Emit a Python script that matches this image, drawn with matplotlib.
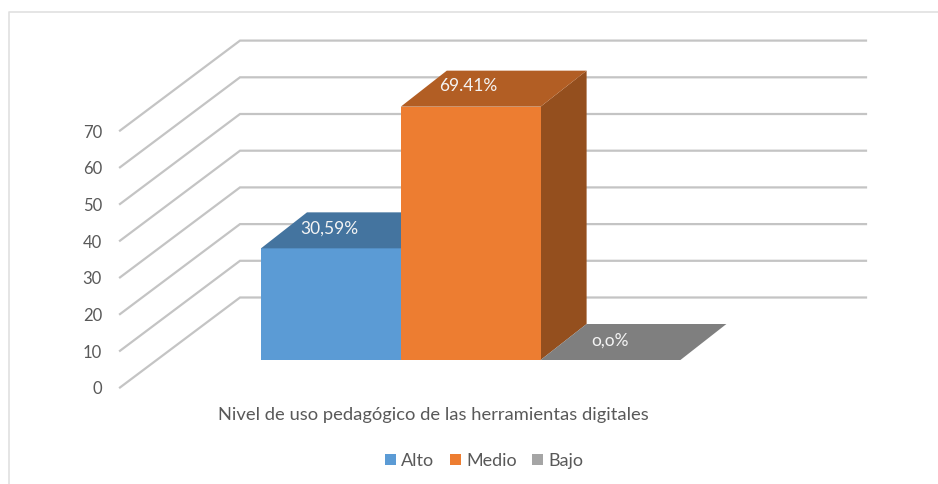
import matplotlib
matplotlib.use("Agg")
import matplotlib.pyplot as plt
from matplotlib.patches import Polygon, Rectangle

plt.rcParams['font.family'] = ['Lato', 'DejaVu Sans']

categories = ["Alto", "Medio", "Bajo"]
values = [30.59, 69.41, 0.0]
value_labels = ["30,59%", "69.41%", "o,o%"]
y_ticks = [0, 10, 20, 30, 40, 50, 60, 70]
x_title = "Nivel de uso pedagógico de las herramientas digitales"
front = ["#5B9BD5", "#ED7D31", "#A5A5A5"]
top = ["#44749F", "#B25E24", "#7F7F7F"]
side = ["#375E81", "#944F1E", "#646464"]

W, H = 938, 485
PXU = 3.67           # pixels per unit on the wall
BAR_PXU = 3.65       # pixels per unit on the bars
Y0_WALL = 388.5      # floor front-left
X_WALL = 120
DX_WALL, DY_WALL = 120, -90
X_END = 866
BAR_X0, BAR_W = 261, 139.8
BAR_BASE = 361
DX_BAR, DY_BAR = 46, -36

fig = plt.figure(figsize=(W / 100, H / 100), dpi=100)
ax = fig.add_axes([0, 0, 1, 1])
ax.set_xlim(0, W)
ax.set_ylim(H, 0)
ax.axis("off")

# chart frame
ax.plot([8.5, 8.5, W], [H, 12.5, 12.5], color="#E0E0E0", lw=1.2)

# gridlines on wall
for t in y_ticks:
    y = Y0_WALL - t * PXU
    ax.plot([X_WALL, X_WALL + DX_WALL, X_END], [y, y + DY_WALL, y + DY_WALL],
            color="#C4C4C4", lw=1.6, solid_joinstyle="miter", zorder=1)
    ax.text(X_WALL - 18, y + 1, str(t), ha="right", va="center", fontsize=12, color="#595959")

# bars
label_dx = [-25, -25, -24]
label_dy = [-3, -4, -2]
for i, v in enumerate(values):
    x0 = BAR_X0 + i * BAR_W
    x1 = x0 + BAR_W
    yt = BAR_BASE - v * BAR_PXU
    if v > 0:
        ax.add_patch(Polygon([(x1, yt), (x1 + DX_BAR, yt + DY_BAR),
                              (x1 + DX_BAR, BAR_BASE + DY_BAR), (x1, BAR_BASE)],
                             fc=side[i], ec="none", zorder=2 + i))
        ax.add_patch(Rectangle((x0, yt), BAR_W, v * BAR_PXU, fc=front[i], ec="none", zorder=2 + i))
    ax.add_patch(Polygon([(x0, yt), (x0 + DX_BAR, yt + DY_BAR),
                          (x1 + DX_BAR, yt + DY_BAR), (x1, yt)],
                         fc=top[i], ec="none", zorder=2 + i))
    ax.text(x0 + BAR_W / 2 + DX_BAR / 2 + label_dx[i], yt + DY_BAR / 2 + label_dy[i], value_labels[i],
            ha="center", va="center", fontsize=12.5,
            color="#F4F4F4", zorder=10)

ax.text(433, 415.5, x_title, ha="center", va="center", fontsize=13.25, color="#595959")

# legend
leg_x = [385, 450, 532]
for x, name, c in zip(leg_x, categories, front):
    ax.add_patch(Rectangle((x, 455), 11, 11, fc=c, ec="none"))
    ax.text(x + 16, 461, name, ha="left", va="center", fontsize=13, color="#595959")

fig.savefig("out.png", dpi=100)
